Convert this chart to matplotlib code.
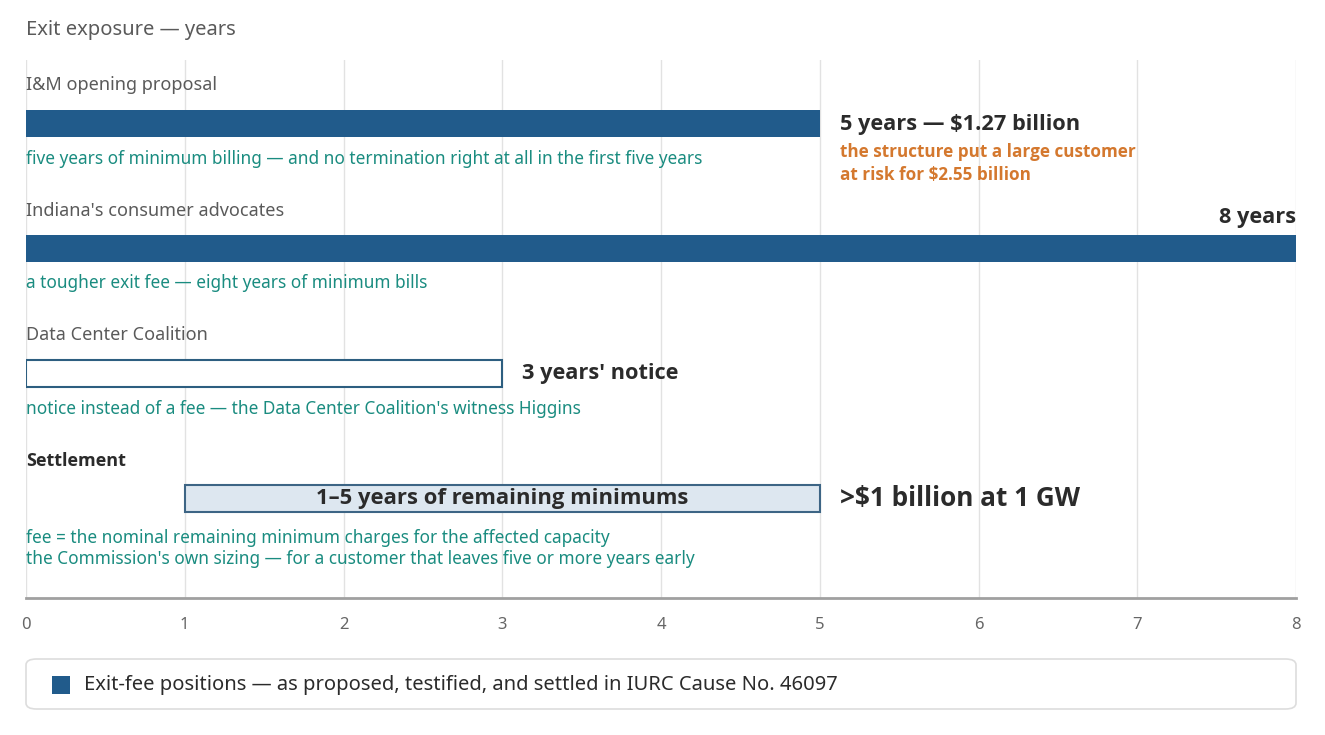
import matplotlib
matplotlib.use("Agg")
import matplotlib.pyplot as plt
from matplotlib.patches import FancyBboxPatch, Rectangle

plt.rcParams['font.family'] = ['Noto Sans', 'Open Sans', 'DejaVu Sans']
BOLD_FAMILY = ['Open Sans', 'Noto Sans', 'DejaVu Sans']

# ---- data ----
categories = ["I&M opening proposal", "Indiana's consumer advocates",
              "Data Center Coalition", "Settlement"]
bar_start = [0, 0, 0, 1]
bar_end = [5, 8, 3, 5]
value_labels = ["5 years \u2014 $1.27 billion", "8 years", "3 years' notice",
                ">$1 billion at 1 GW"]
inner_label = "1\u20135 years of remaining minimums"
notes = ["five years of minimum billing \u2014 and no termination right at all in the first five years",
         "a tougher exit fee \u2014 eight years of minimum bills",
         "notice instead of a fee \u2014 the Data Center Coalition's witness Higgins",
         "fee = the nominal remaining minimum charges for the affected capacity\n"
         "the Commission's own sizing \u2014 for a customer that leaves five or more years early"]
orange_note = "the structure put a large customer\nat risk for $2.55 billion"
x_ticks = [0, 1, 2, 3, 4, 5, 6, 7, 8]
title = "Exit exposure \u2014 years"
legend_text = "Exit-fee positions \u2014 as proposed, testified, and settled in IURC Cause No. 46097"

# ---- styles ----
BLUE = "#215b8b"
TEAL = "#1a8c80"
ORANGE = "#d4782e"
GREY = "#5a5a5a"
DARK = "#2b2b2b"

W, H = 1325, 735
fig = plt.figure(figsize=(W / 100, H / 100), dpi=100)
L, R, T, B = 26, 1296, 60, 598
ax = fig.add_axes([L / W, 1 - B / H, (R - L) / W, (B - T) / H])

row_px = 125.0
ax.set_xlim(0, 8)
ax.set_ylim(3 + (B - 498.5) / row_px, -(123.5 - T) / row_px)
bh = 27 / row_px

for sp in ["top", "right", "left"]:
    ax.spines[sp].set_visible(False)
ax.spines["bottom"].set_color("#a0a0a0")
ax.spines["bottom"].set_linewidth(2)
ax.set_yticks([])
ax.set_xticks(x_ticks)
ax.tick_params(axis="x", length=0, pad=14, labelsize=12, labelcolor="#666666")
ax.grid(axis="x", color="#e2e2e2", linewidth=1)
ax.set_axisbelow(True)

for i, cat in enumerate(categories):
    w = bar_end[i] - bar_start[i]
    if i in (0, 1):
        ax.barh(i, w, left=bar_start[i], height=bh, color=BLUE, zorder=3)
    elif i == 2:
        ax.barh(i, w, left=bar_start[i], height=bh, color="white",
                edgecolor="#2d5e80", linewidth=1.5, zorder=3)
    else:
        ax.barh(i, w, left=bar_start[i], height=bh, color="#dde7f0",
                edgecolor="#3d6585", linewidth=1.5, zorder=3)
    # category label
    if i < 3:
        ax.text(0, i - 38 / row_px, cat, ha="left", va="center",
                fontsize=13, color=GREY, zorder=4)
    else:
        ax.text(0, i - 38 / row_px, cat, ha="left", va="center",
                fontsize=13, color=DARK, fontweight="bold",
                family=BOLD_FAMILY, zorder=4)
    # note
    ax.text(0, i + (35 if i < 3 else 50) / row_px, notes[i], ha="left", va="center",
            fontsize=12.4, color=TEAL, linespacing=1.2, zorder=4)

# value labels
bold = dict(fontweight="bold", family=BOLD_FAMILY, color=DARK, zorder=4)
ax.annotate(value_labels[0], xy=(5, 0), xytext=(20, -1), textcoords="offset pixels",
            ha="left", va="center", fontsize=15.7, **bold)
ax.annotate(orange_note, xy=(5, 0), xytext=(20, -40), textcoords="offset pixels",
            ha="left", va="center", fontsize=12.3, fontweight="bold",
            family=BOLD_FAMILY, color=ORANGE, linespacing=1.3, zorder=4)
ax.text(8, 1 - 31 / row_px, value_labels[1], ha="right", va="center",
        fontsize=15.7, **bold)
ax.annotate(value_labels[2], xy=(3, 2), xytext=(20, 0), textcoords="offset pixels",
            ha="left", va="center", fontsize=15.7, **bold)
ax.annotate(value_labels[3], xy=(5, 3), xytext=(20, 0), textcoords="offset pixels",
            ha="left", va="center", fontsize=18.8, **bold)
ax.text((bar_start[3] + bar_end[3]) / 2, 3, inner_label, ha="center", va="center",
        fontsize=15.8, **bold)

# title
fig.text(26 / W, 1 - 30 / H, title, ha="left", va="center", fontsize=14.5, color=GREY)

# legend box
box = FancyBboxPatch((26 / W, 1 - 709 / H), (1296 - 26) / W, 50 / H,
                     boxstyle="round,pad=0,rounding_size=0.008",
                     transform=fig.transFigure, facecolor="white",
                     edgecolor="#dddddd", linewidth=1.2)
fig.patches.append(box)
sq = Rectangle((52 / W, 1 - 694 / H), 18 / W, 18 / H, transform=fig.transFigure,
               facecolor=BLUE, edgecolor="none")
fig.patches.append(sq)
fig.text(84 / W, 1 - 685 / H, legend_text, ha="left", va="center",
         fontsize=14.5, color=DARK)

fig.savefig("out.png", dpi=100, facecolor="white")
